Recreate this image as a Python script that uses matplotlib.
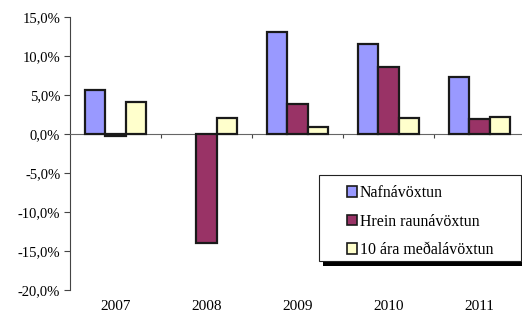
import numpy as np
import matplotlib.pyplot as plt
from matplotlib.patches import Rectangle
from matplotlib.ticker import FuncFormatter

years = ['2007', '2008', '2009', '2010', '2011']
nafn = [5.6, np.nan, 13.1, 11.5, 7.3]   # 2008 vantar
hrein = [-0.3, -14.0, 3.9, 8.6, 1.9]
medal = [4.1, 2.0, 0.9, 2.0, 2.2]
labels = ['Nafnávöxtun', 'Hrein raunávöxtun', '10 ára meðalávöxtun']
colors = ['#9999FF', '#993366', '#FFFFCC']

plt.rcParams['font.family'] = ['Liberation Serif', 'DejaVu Serif']

W, H = 522, 317
fig = plt.figure(figsize=(W / 100, H / 100), dpi=100)
ax = fig.add_axes([70 / W, 27 / H, 455 / W, 273 / H])

x = np.arange(len(years))
w = 0.225
handles = []
for i, (vals, c, lab) in enumerate(zip([nafn, hrein, medal], colors, labels)):
    b = ax.bar(x + (i - 1) * w, vals, width=w, color=c, edgecolor='#1a1a1a',
               linewidth=1.6, label=lab, zorder=3)
    handles.append(b)

ax.set_xlim(-0.5, len(years) - 0.5)
ax.set_ylim(-20, 15)
ax.set_yticks(np.arange(-20, 16, 5))
ax.yaxis.set_major_formatter(FuncFormatter(lambda v, p: f'{v:.1f}%'.replace('.', ',')))
ax.tick_params(axis='y', labelsize=10.5, length=4, color='#444444', pad=3)

ax.spines['top'].set_visible(False)
ax.spines['right'].set_visible(False)
ax.spines['bottom'].set_position(('data', 0))
ax.spines['left'].set_color('#444444')
ax.spines['bottom'].set_color('#666666')
ax.set_xticks(np.arange(0.5, len(years) - 0.5, 1))
ax.set_xticklabels([])
ax.tick_params(axis='x', direction='out', length=3, color='#444444')

for xi, yr in zip(x, years):
    ax.text(xi, -22.1, yr, ha='center', va='center', fontsize=11)

# legend box with black shadow, drawn by hand
shadow = Rectangle((323 / W, 1 - 266 / H), 202 / W, 86 / H, transform=fig.transFigure,
                   facecolor='black', edgecolor='none', zorder=5)
box = Rectangle((319 / W, 1 - 261 / H), 202 / W, 86 / H, transform=fig.transFigure,
                facecolor='white', edgecolor='#222222', linewidth=0.8, zorder=6)
fig.add_artist(shadow)
fig.add_artist(box)

leg = fig.legend(handles, labels, loc='upper left', bbox_to_anchor=(347 / W, 1 - 185 / H),
                 frameon=False, fontsize=11.4,
                 handlelength=0.65, handleheight=0.65, handletextpad=0.15,
                 labelspacing=0.8, borderpad=0, borderaxespad=0)
leg.set_zorder(7)
for h in leg.legend_handles:
    h.set_linewidth(1.2)

fig.savefig('out.png', dpi=100)
